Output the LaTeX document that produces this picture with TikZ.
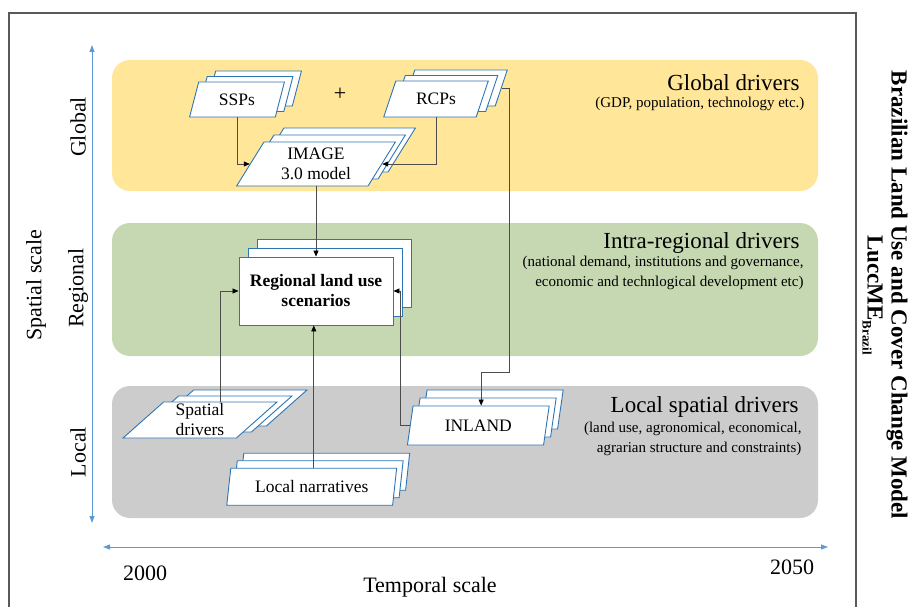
\documentclass[tikz,border=0pt]{standalone}
\usepackage{fontspec}
\setmainfont{Liberation Serif}
\usetikzlibrary{arrows.meta, positioning, calc, shapes.geometric, shadows}
\definecolor{colour_global}{HTML}{FFE699}
\definecolor{colour_regional}{HTML}{C5D8B1}
\definecolor{colour_local}{HTML}{CCCCCC}
\definecolor{colour_axis}{HTML}{5B9BD5}
\definecolor{colour_box}{HTML}{2E75B6}
\colorlet{colour_link}{black!70}
\colorlet{colour_frame}{black!65}

\begin{document}
\begin{tikzpicture}
   [
      x=1pt, y=-1pt,
      band/.style={rounded corners=18pt},
      sheet/.style 2 args={trapezium, draw=colour_box, fill=white, line width=0.9pt,
         trapezium left angle=#1, trapezium right angle=#2, trapezium stretches=true,
         inner sep=0pt, align=center, font=\fontsize{17.5}{20}\selectfont},
      page/.style={rectangle, draw=colour_box, fill=white, line width=0.9pt,
         inner sep=0pt, align=center, font=\fontsize{17.5}{20}\selectfont\bfseries},
      pile/.style 2 args={
         copy shadow={shadow xshift=2*#1, shadow yshift=2*#2, fill=white, draw=colour_box, line width=0.9pt},
         copy shadow={shadow xshift=#1, shadow yshift=#2, fill=white, draw=colour_box, line width=0.9pt}},
      link/.style={draw=colour_link, line width=0.7pt, -{Triangle[length=6pt, width=5pt, color=black]}},
      axis/.style={colour_axis, line width=1pt, {Triangle[length=7pt, width=5pt]}-{Triangle[length=7pt, width=5pt]}},
      title/.style={anchor=east, font=\fontsize{23}{26}\selectfont},
      note/.style={anchor=east, align=right, font=\fontsize{15}{20.5}\selectfont},
      scale label/.style={font=\fontsize{22}{26}\selectfont}
   ]

   \useasboundingbox (0,0) rectangle (912,607);

   % =======================================================
   % Frame and bands
   % =======================================================

   \draw[colour_frame, line width=1.3pt] (9,640) -- (9,13) -- (856,13) -- (856,640);

   \fill[colour_global, band] (112,60) rectangle (818,191);
   \fill[colour_regional, band] (112,223) rectangle (818,356);
   \fill[colour_local, band] (112,386) rectangle (818,518);

   % =======================================================
   % Axes
   % =======================================================

   \coordinate (space_top) at (92,45);
   \coordinate (space_bottom) at (92,523);
   \coordinate (time_left) at (103,547);
   \coordinate (time_right) at (828,547);
   \draw[axis] (space_top) -- (space_bottom);
   \draw[axis] (time_left) -- (time_right);

   \node[scale label, rotate=90] (spatial) at (36,285) {Spatial scale};
   \node[scale label, rotate=90] (lbl_global) at (78,127) {Global};
   \node[scale label, rotate=90] (lbl_regional) at (78,288) {Regional};
   \node[scale label, rotate=90] (lbl_local) at (78,452) {Local};

   \node[scale label] (year_start) at (145,573) {2000};
   \node[scale label] (year_end) at (792,567) {2050};
   \node[scale label] (temporal) at (430,587) {Temporal scale};

   % =======================================================
   % Band titles
   % =======================================================

   \node[title] (t_global) at (803,83) {Global drivers};
   \node[note] (n_global) at (808,104) {(GDP, population, technology etc.)};

   \node[title] (t_regional) at (803,243) {Intra-regional drivers};
   \node[note] (n_regional) at (807,273) {(national demand, institutions and governance,\\
      economic and technlogical development etc)};

   \node[title] (t_local) at (802,407) {Local spatial drivers};
   \node[note] (n_local) at (805,439) {(land use, agronomical, economical,\\
      agrarian structure and constraints)};

   % =======================================================
   % Stacked sheets
   % =======================================================

   \node[sheet={70}{110}, pile={8.5pt}{5.5pt}, minimum width=95pt, minimum height=35pt] (SSPs) at (237,99.5) {SSPs};
   \node[font=\fontsize{22}{24}\selectfont] (plus) at (340,94) {+};
   \node[sheet={63}{117}, pile={9.5pt}{5.5pt}, minimum width=105pt, minimum height=36pt] (RCPs) at (436,99) {RCPs};
   \node[sheet={60}{120}, pile={10pt}{7pt}, minimum width=159pt, minimum height=44pt] (IMAGE) at (316,164) {IMAGE\\3.0 model};

   \node[page, pile={9pt}{9pt}, minimum width=154pt, minimum height=68pt] (regional) at (316,291) {Regional land use\\scenarios};

   \node[sheet={50}{130}, pile={15pt}{6pt}, minimum width=154pt, minimum height=36pt] (spatial_drv) at (200,420) {Spatial\\drivers};
   \node[sheet={77}{103}, pile={6.5pt}{7.5pt}, minimum width=170pt, minimum height=37pt] (narratives) at (311.7,486.7) {Local narratives};
   \node[sheet={76}{104}, pile={7pt}{8pt}, minimum width=142pt, minimum height=39pt] (INLAND) at (478.3,425.5) {INLAND};

   % =======================================================
   % Links
   % =======================================================

   \draw[link] (SSPs.south) |- (IMAGE.left side);
   \draw[link] (RCPs.south) |- (IMAGE.right side);
   \draw[link] (IMAGE.south) -- (IMAGE.south |- regional.north);

   \draw[link] (spatial_drv.top side) |- (regional.west);
   \draw[link] (narratives.top side) -- (narratives.top side |- regional.south);
   \draw[link] (INLAND.left side) -- ++(-9,0) |- (regional.east);

   \coordinate (rcp_out) at ([xshift=19pt, yshift=11pt]RCPs.right side);
   \draw[link] (rcp_out) -- ++(8,0) |- ($(INLAND.top side)+(0,-33)$) -- (INLAND.top side);

   % =======================================================
   % Model name
   % =======================================================

   \node[rotate=-90, align=center, font=\fontsize{23}{24}\selectfont\bfseries] (model) at (885,295)
      {Brazilian Land Use and Cover Change Model\\LuccME\raisebox{-5pt}{\fontsize{13}{13}\selectfont Brazil}};

\end{tikzpicture}
\end{document}
